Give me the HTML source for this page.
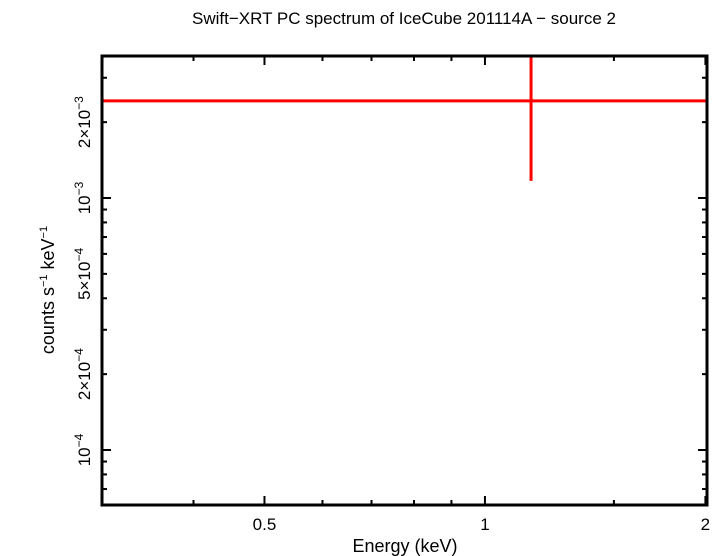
<!DOCTYPE html>
<html><head><meta charset="utf-8"><style>body{margin:0;background:#fff}svg{display:block;font-family:"Liberation Sans",sans-serif}</style></head>
<body>
<svg id="chart" width="724" height="556" viewBox="0 0 724 556">
<text x="404" y="24" font-size="17" text-anchor="middle">Swift−XRT PC spectrum of IceCube 201114A − source 2</text>
<text x="405" y="552" font-size="18" text-anchor="middle">Energy (keV)</text>
<text transform="translate(54,290) rotate(-90)" font-size="18" text-anchor="middle">counts s<tspan font-size="11" dy="-7">−1</tspan><tspan dy="7"> keV</tspan><tspan font-size="11" dy="-7">−1</tspan></text>
<g id="ticks"></g>
<g id="marks"></g>
<rect x="102" y="56" width="605" height="449" fill="none" stroke="#000" stroke-width="3"/>
</svg>
<script>
const xTicksMajor = [0.5, 1, 2];
const xTickLabels = ["0.5", "1", "2"];
const xTicksMinor = [0.3, 0.4, 0.6, 0.7, 0.8, 0.9, 1.5];
const yTicksMajor = [1e-4, 2e-4, 5e-4, 1e-3, 2e-3];
const yTickMant = ["", "2×", "5×", "", "2×"];
const yTickExp = ["−4", "−4", "−4", "−3", "−3"];
const yTicksMinor = [7e-5,8e-5,9e-5,3e-4,4e-4,6e-4,7e-4,8e-4,9e-4,3e-3];
const energyLo = [0.25];
const energyHi = [2.5];
const energyMid = [1.156];
const rate = [2.43e-3];
const rateErr = [1.26e-3];
const X0=102,X1=707,Y0=505,Y1=56, xmin=0.3, xmax=2.01, ymin=6.05e-5, ymax=3.66e-3;
const sx=v=>X0+(Math.log10(v)-Math.log10(xmin))/(Math.log10(xmax)-Math.log10(xmin))*(X1-X0);
const sy=v=>Y0-(Math.log10(v)-Math.log10(ymin))/(Math.log10(ymax)-Math.log10(ymin))*(Y0-Y1);
const NS="http://www.w3.org/2000/svg";
const T=document.getElementById('ticks'), M=document.getElementById('marks');
function ln(p,x1,y1,x2,y2,c,w,name){const l=document.createElementNS(NS,'line');l.setAttribute('x1',x1);l.setAttribute('y1',y1);l.setAttribute('x2',x2);l.setAttribute('y2',y2);l.setAttribute('stroke',c);l.setAttribute('stroke-width',w);


p.appendChild(l);}
xTicksMajor.forEach((v,i)=>{const x=sx(v);ln(T,x,Y0,x,Y0-9,'#000',2,'x-major-tick');ln(T,x,Y1,x,Y1+9,'#000',2,'x-major-tick');
const t=document.createElementNS(NS,'text');t.setAttribute('x',x);t.setAttribute('y',Y0+25);t.setAttribute('font-size','17');t.setAttribute('text-anchor','middle');t.textContent=xTickLabels[i];


T.appendChild(t);});
xTicksMinor.forEach(v=>{const x=sx(v);ln(T,x,Y0,x,Y0-5,'#000',2,'x-minor-tick');ln(T,x,Y1,x,Y1+5,'#000',2,'x-minor-tick');});
yTicksMajor.forEach((v,i)=>{const y=sy(v);const len=yTickMant[i]?5:9;ln(T,X0,y,X0+len,y,'#000',2,'y-major-tick');ln(T,X1,y,X1-len,y,'#000',2,'y-major-tick');
const t=document.createElementNS(NS,'text');t.setAttribute('transform','translate(90,'+y+') rotate(-90)');t.setAttribute('font-size','17');t.setAttribute('text-anchor','middle');
t.innerHTML=yTickMant[i]+'10<tspan font-size="12" dy="-7">'+yTickExp[i]+'</tspan>';


T.appendChild(t);});
yTicksMinor.forEach(v=>{const y=sy(v);ln(T,X0,y,X0+5,y,'#000',2,'y-minor-tick');ln(T,X1,y,X1-5,y,'#000',2,'y-minor-tick');});
rate.forEach((r,i)=>{const y=sy(r);
ln(M,Math.max(X0,sx(energyLo[i])),y,Math.min(X1,sx(energyHi[i])),y,'#f00',3,'data-point-xerr');
const x=sx(energyMid[i]);
ln(M,x,Math.max(Y1,sy(r+rateErr[i])),x,Math.min(Y0,sy(r-rateErr[i])),'#f00',3,'data-point-yerr');});
</script>
</body></html>
